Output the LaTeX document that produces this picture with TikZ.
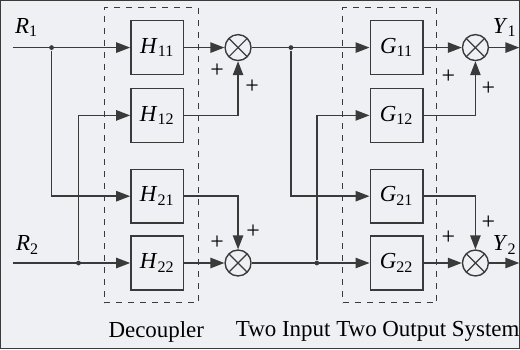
\documentclass[tikz,border=0pt]{standalone}
\usepackage{fontspec}
\setmainfont{Liberation Serif}
\usetikzlibrary{arrows.meta,positioning,fit}
\definecolor{linegray}{HTML}{3A3A3A}
\definecolor{paper}{HTML}{EEF0F4}
\newcommand{\blk}[2]{\textit{#1}\textsubscript{#2}}

\begin{document}
\begin{tikzpicture}[
    x=0.5pt, y=0.5pt,
    font=\fontsize{11.5}{14}\selectfont,
    every path/.style={draw=linegray, line width=0.7pt},
    block/.style={draw=linegray, line width=0.7pt, minimum width=26.5pt, minimum height=27pt, inner sep=0pt},
    sumnode/.style={circle, draw=linegray, line width=0.7pt, minimum size=13pt, inner sep=0pt,
        path picture={\draw[line width=0.6pt] (path picture bounding box.north west) -- (path picture bounding box.south east)
            (path picture bounding box.north east) -- (path picture bounding box.south west);}},
    group/.style={draw=linegray, dashed, line width=0.6pt, inner sep=0pt},
    dot/.style={circle, fill=linegray, draw=none, minimum size=2.4pt, inner sep=0pt},
    sign/.style={inner sep=0pt, font=\fontsize{12}{14}\selectfont},
    arrow/.style={-{Triangle[length=7pt,width=5.2pt]}}
]
\fill[paper, draw=none] (0,0) rectangle (520,-349);
\useasboundingbox (0,0) rectangle (520,-349);
% decoupler
\node[block] (H11) at (157,-47) {\blk{H}{11}};
\node[block] (H12) at (157,-115) {\blk{H}{12}};
\node[block] (H21) at (157,-196) {\blk{H}{21}};
\node[block] (H22) at (157,-263) {\blk{H}{22}};
\node[group, fit={(104,-7) (198,-303)}] (dec) {};
\node[sumnode] (s1) at (238,-47) {};
\node[sumnode] (s2) at (238,-263) {};
% plant
\node[block] (G11) at (397,-47) {\blk{G}{11}};
\node[block] (G12) at (397,-115) {\blk{G}{12}};
\node[block] (G21) at (397,-196) {\blk{G}{21}};
\node[block] (G22) at (397,-263) {\blk{G}{22}};
\node[group, fit={(343,-7) (437,-303)}] (sys) {};
\node[sumnode] (s3) at (476,-47) {};
\node[sumnode] (s4) at (476,-263) {};
% inputs, outputs, junctions
\coordinate (r1in) at (12,-47);
\coordinate (r2in) at (12,-263);
\coordinate (y1out) at (520,-47);
\coordinate (y2out) at (520,-263);
\node[dot] (j1) at (51,-47) {};
\node[dot] (j2) at (78,-263) {};
\node[dot] (j3) at (291,-47) {};
\node[dot] (j4) at (317,-263) {};
% labels
\node (r1) at (26,-27) {\blk{R}{1}};
\node (r2) at (27,-245) {\blk{R}{2}};
\node[anchor=east, inner xsep=1pt] (y1) at (520,-27) {\blk{Y}{1}};
\node[anchor=east, inner xsep=1pt] (y2) at (520,-245) {\blk{Y}{2}};
\node[sign] at (217,-70) {+};
\node[sign] at (252,-86) {+};
\node[sign] at (217,-243) {+};
\node[sign] at (253,-232) {+};
\node[sign] at (449,-76) {+};
\node[sign] at (489,-88) {+};
\node[sign] at (449,-238) {+};
\node[sign] at (489,-223) {+};
\node (declabel) at (156,-332) {Decoupler};
\node (syslabel) at (378,-332) {Two Input Two Output System};
% connections
\draw[arrow] (r1in) -- (H11);
\draw[arrow] (r2in) -- (H22);
\draw[arrow] (j1) |- (H21.west);
\draw[arrow] (j2) |- (H12.west);
\draw[arrow] (H11) -- (s1);
\draw[arrow] (H12.east) -| (s1.south);
\draw[arrow] (H21.east) -| (s2.north);
\draw[arrow] (H22) -- (s2);
\draw[arrow] (s1) -- (G11);
\draw[arrow] (s2) -- (G22);
\draw[arrow] (j3) |- (G21.west);
\draw[arrow] (j4) |- (G12.west);
\draw[arrow] (G11) -- (s3);
\draw[arrow] (G12.east) -| (s3.south);
\draw[arrow] (G21.east) -| (s4.north);
\draw[arrow] (G22) -- (s4);
\draw[arrow] (s3) -- (y1out);
\draw[arrow] (s4) -- (y2out);
\end{tikzpicture}
\end{document}
